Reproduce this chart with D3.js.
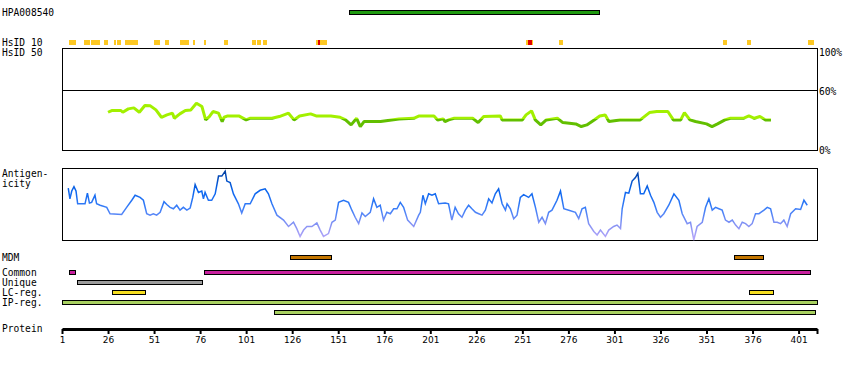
<!DOCTYPE html>
<html>
<head>
<meta charset="utf-8">
<script src="https://cdn.jsdelivr.net/npm/d3@7"></script>
<style>
    body { margin: 0; background: #fff; }
    svg { display: block; font-family: "DejaVu Sans Mono", monospace; font-size: 9.6px; }
</style>
</head>
<body>
<svg id="chart"></svg>
<script>
// ---- data ----
const proteinLength = 411;
const antibodyName = "HPA008540";
const antibodySpan = [157, 293];

// HsID 10 hits (residue ranges), strong hits drawn red on top
const hsid10Hits = [[5, 9], [13, 16], [17, 22], [24, 26], [29, 30], [31, 33], [35, 42], [51, 54],
    [57, 59], [65, 70], [72, 73], [78, 79], [89, 91], [104, 106], [107, 109], [110, 112],
    [139, 145], [253, 257], [271, 273], [360, 362], [373, 375], [406, 409]];
const hsid10Strong = [[140, 141], [254, 256]];

// HsID 50 identity (%)
const identityResidue = [26, 28, 33, 34, 37, 40, 43, 46, 49, 52,
    55, 58, 61, 62, 65, 68, 71, 74, 77, 79,
    81, 83, 86, 88, 89, 91, 97, 101, 103, 115,
    119, 124, 127, 130, 136, 139, 147, 152, 155, 158,
    161, 163, 165, 174, 180, 184, 192, 195, 203, 205,
    208, 209, 211, 214, 224, 227, 230, 239, 240, 251,
    253, 256, 258, 261, 264, 270, 273, 280, 283, 286,
    290, 293, 296, 298, 304, 315, 320, 324, 330, 333,
    337, 339, 342, 345, 351, 354, 357, 361, 364, 371,
    374, 377, 380, 383, 386];
const identityPct = [37, 38.7, 38.7, 37, 40.3, 41.3, 37, 43.6, 43.3, 39.3,
    32.1, 34.4, 36.1, 31.1, 35.4, 38.7, 39.3, 45.9, 42.6, 29.5,
    32.8, 37.7, 36.1, 27.9, 32.1, 33.4, 33.4, 29.5, 31.1, 31.1,
    32.8, 36.1, 29.5, 33.4, 35.4, 33.4, 33.4, 32.1, 29.5, 24.6,
    31.1, 23.0, 27.9, 27.9, 29.5, 30.5, 31.1, 33.4, 33.4, 29.5,
    30.5, 27.9, 29.5, 31.1, 31.1, 26.9, 32.8, 33.4, 29.5, 29.5,
    34.4, 38.4, 29.5, 24.6, 29.5, 31.1, 26.9, 25.6, 23.0, 24.6,
    29.5, 33.4, 34.4, 27.9, 29.5, 29.5, 36.7, 37.7, 37.7, 29.5,
    29.5, 36.7, 29.5, 27.9, 25.6, 23.0, 25.6, 29.5, 31.1, 31.1,
    33.4, 31.1, 32.8, 29.5, 29.5];

// antigenicity score (0 = box bottom, 100 = box top)
const antigenResidue = [4.4, 5.3, 6.3, 7.5, 8.6, 9.5, 13.5, 14.8, 15.9, 17.1,
    18.9, 19.8, 21.7, 25.3, 27.1, 33.4, 36.1, 38.9, 40.7, 43.4,
    45.2, 47.0, 48.8, 50.6, 52.4, 54.3, 56.4, 57.9, 59.7, 61.5,
    63.3, 65.1, 66.9, 68.8, 70.6, 72.0, 73.3, 75.1, 76.9, 77.8,
    78.7, 80.5, 82.3, 84.2, 86.0, 87.8, 89.6, 90.5, 92.3, 94.1,
    96.8, 98.6, 100.5, 103.2, 105.9, 108.6, 111.3, 113.1, 115.0, 117.7,
    121.3, 124.0, 126.7, 128.5, 130.3, 132.2, 134.0, 136.7, 139.4, 141.2,
    143.0, 145.7, 147.6, 149.4, 151.2, 153.9, 156.6, 158.4, 160.2, 162.1,
    163.9, 165.7, 168.4, 170.2, 172.0, 173.8, 175.6, 177.4, 179.3, 181.1,
    182.9, 184.7, 186.5, 188.7, 192.0, 194.7, 195.6, 197.0, 198.3, 200.1,
    201.9, 203.7, 205.5, 209.1, 210.9, 212.7, 214.5, 216.3, 218.2, 220.0,
    221.8, 223.6, 225.5, 227.3, 229.1, 230.9, 232.7, 234.5, 236.3, 238.1,
    240.0, 241.8, 242.7, 244.5, 246.3, 248.1, 249.9, 251.7, 254.4, 256.2,
    258.1, 259.9, 261.7, 263.5, 265.3, 267.1, 269.8, 271.7, 273.5, 276.2,
    279.8, 281.6, 283.4, 285.2, 287.0, 289.8, 291.6, 293.4, 296.1, 297.9,
    300.6, 302.4, 304.3, 305.2, 307.0, 308.8, 310.6, 312.4, 313.7, 315.1,
    316.9, 318.8, 320.6, 322.4, 324.2, 326.0, 327.8, 330.5, 333.3, 336.0,
    337.8, 340.5, 342.3, 344.1, 345.9, 348.7, 350.5, 352.3, 354.1, 355.9,
    357.7, 359.5, 361.3, 363.2, 365.0, 366.8, 368.6, 370.4, 372.2, 374.0,
    375.8, 377.6, 379.5, 382.2, 384.0, 385.8, 387.6, 389.4, 391.2, 393.0,
    394.8, 396.7, 399.4, 402.1, 403.9, 405.7];
const antigenScore = [73, 58, 69, 75, 69, 51, 51, 66, 52, 53,
    63, 51, 49, 46, 37, 36, 46, 56, 63, 60,
    56, 37, 35, 37, 35, 39, 54, 50, 46, 44,
    49, 42, 46, 42, 45, 60, 78, 67, 69, 58,
    67, 56, 56, 65, 90, 90, 97, 83, 81, 65,
    51, 38, 51, 51, 65, 70, 72, 65, 51, 35,
    28, 19, 25, 16, 5, 14, 19, 19, 24, 14,
    5, 9, 25, 28, 53, 56, 53, 42, 32, 23,
    38, 33, 39, 58, 46, 49, 28, 39, 37, 44,
    44, 53, 46, 28, 19, 35, 39, 63, 51, 65,
    63, 65, 51, 52, 51, 28, 46, 37, 32, 42,
    49, 44, 39, 37, 35, 42, 58, 52, 65, 72,
    51, 42, 51, 44, 30, 35, 60, 64, 60, 65,
    46, 25, 32, 23, 39, 42, 56, 69, 44, 42,
    39, 30, 44, 46, 23, 12, 7, 14, 5, 14,
    19, 21, 16, 44, 67, 66, 83, 88, 94, 65,
    65, 76, 63, 53, 39, 32, 37, 49, 65, 56,
    37, 23, 25, 0, 19, 25, 46, 58, 42, 46,
    44, 42, 28, 25, 28, 21, 16, 25, 23, 19,
    23, 37, 37, 42, 46, 44, 25, 25, 23, 28,
    19, 37, 44, 43, 56, 49];

// feature tracks (residue ranges)
const mdmRegions = [[125, 147], [366, 382]];
const commonRegions = [[5, 8], [78, 407]];
const uniqueRegions = [[9, 77]];
const lcRegions = [[28, 46], [374, 387]];
const ipRegions = [[1, 411]];
const ipRegions2 = [[116, 410]];

const tickResidues = [1, 26, 51, 76, 101, 126, 151, 176, 201, 226, 251, 276, 301, 326, 351, 376, 401];

class ProteinView {
    left = 62;
    right = 817;

    constructor(svg, width = 850, height = 370) {
        this.svg = svg;
        this.width = width;
        this.height = height;
    }

    initialize() {
        this.svg = d3.select(this.svg)
            .attr("width", this.width)
            .attr("height", this.height);
        this.defs = this.svg.append("defs");
        this.xScale = d3.scaleLinear().domain([1, proteinLength]).range([this.left, this.right]);
    }

    label(text, x, y) {
        this.svg.append("text").attr("x", x).attr("y", y).attr("fill", "#000").text(text);
    }

    bars(ranges, y, h, fill) {
        this.svg.append("g")
            .selectAll("rect")
            .data(ranges)
            .join("rect")
            .attr("x", d => Math.round(this.xScale(d[0])) + 0.5)
            .attr("y", y + 0.5)
            .attr("width", d => Math.max(1, Math.round(this.xScale(d[1]) - this.xScale(d[0]))))
            .attr("height", h)
            .attr("fill", fill)
            .attr("stroke", "#000")
            .attr("stroke-width", 1);
    }

    marks(ranges, fill) {
        const x = this.xScale;
        this.svg.append("g")
            .selectAll("rect")
            .data(ranges)
            .join("rect")
            .attr("x", d => Math.round(x(d[0])))
            .attr("y", 40)
            .attr("width", d => Math.max(2, Math.round(x(d[1]) - x(d[0]))))
            .attr("height", 5)
            .attr("fill", fill);
    }

    render() {
        const x = this.xScale;

        // antibody
        this.label(antibodyName, 2, 16);
        this.bars([antibodySpan], 10, 4, "#1f9a10");

        // HsID 10
        this.label("HsID 10", 2, 46);
        this.marks(hsid10Hits, "#fdc823");
        this.marks(hsid10Strong, "#e00000");

        // HsID 50 identity
        this.label("HsID 50", 2, 56);
        const yId = d3.scaleLinear().domain([0, 100]).range([150, 48]);
        this.svg.append("rect")
            .attr("x", this.left + 0.5).attr("y", 48.5)
            .attr("width", this.right - this.left).attr("height", 102)
            .attr("fill", "none").attr("stroke", "#000");
        this.svg.append("line")
            .attr("x1", this.left).attr("x2", this.right + 1)
            .attr("y1", 90.5).attr("y2", 90.5)
            .attr("stroke", "#000");
        this.label("100%", 819, 56);
        this.label("60%", 819, 95);
        this.label("0%", 819, 154);

        const idGrad = this.defs.append("linearGradient")
            .attr("id", "idGrad")
            .attr("gradientUnits", "userSpaceOnUse")
            .attr("x1", 0).attr("x2", 0)
            .attr("y1", yId(100)).attr("y2", yId(0));
        const cut = 1 - 30 / 100;
        idGrad.append("stop").attr("offset", cut).attr("stop-color", "#a2f000");
        idGrad.append("stop").attr("offset", cut).attr("stop-color", "#62bf00");

        const idLine = d3.line()
            .x((d, i) => x(identityResidue[i]))
            .y(d => yId(d));
        this.svg.append("path")
            .attr("d", idLine(identityPct))
            .attr("fill", "none")
            .attr("stroke", "url(#idGrad)")
            .attr("stroke-width", 3)
            .attr("stroke-linejoin", "bevel");

        // antigenicity
        this.label("Antigen-", 2, 177);
        this.label("icity", 2, 187);
        const yAg = d3.scaleLinear().domain([0, 100]).range([240, 169]);
        this.svg.append("rect")
            .attr("x", this.left + 0.5).attr("y", 168.5)
            .attr("width", this.right - this.left).attr("height", 72)
            .attr("fill", "none").attr("stroke", "#000");

        const agGrad = this.defs.append("linearGradient")
            .attr("id", "agGrad")
            .attr("gradientUnits", "userSpaceOnUse")
            .attr("x1", 0).attr("x2", 0)
            .attr("y1", yAg(100)).attr("y2", yAg(0));
        agGrad.append("stop").attr("offset", 0).attr("stop-color", "#003a98");
        agGrad.append("stop").attr("offset", 0.3).attr("stop-color", "#0864ee");
        agGrad.append("stop").attr("offset", 0.55).attr("stop-color", "#3a7ef8");
        agGrad.append("stop").attr("offset", 0.8).attr("stop-color", "#8a94f4");
        agGrad.append("stop").attr("offset", 1).attr("stop-color", "#b9a8fa");

        const agLine = d3.line()
            .x((d, i) => x(antigenResidue[i]))
            .y(d => yAg(d));
        this.svg.append("path")
            .attr("d", agLine(antigenScore))
            .attr("fill", "none")
            .attr("stroke", "url(#agGrad)")
            .attr("stroke-width", 1.5);

        // feature tracks
        this.label("MDM", 2, 261);
        this.bars(mdmRegions, 255, 4, "#c47600");
        this.label("Common", 2, 276);
        this.bars(commonRegions, 270, 4, "#c8209e");
        this.label("Unique", 2, 286);
        this.bars(uniqueRegions, 280, 4, "#9c9c9c");
        this.label("LC-reg.", 2, 296);
        this.bars(lcRegions, 290, 4, "#f6de20");
        this.label("IP-reg.", 2, 306);
        this.bars(ipRegions, 300, 4, "#a8d060");
        this.bars(ipRegions2, 310, 4, "#a8d060");

        // protein axis
        this.label("Protein", 2, 332);
        const axis = this.svg.append("g")
            .attr("transform", "translate(0, 329)")
            .call(d3.axisBottom(x)
                .tickValues([...tickResidues, proteinLength])
                .tickFormat(d => d === proteinLength ? "" : d)
                .tickSize(5)
                .tickSizeOuter(0));
        axis.select(".domain").attr("stroke-width", 3);
        axis.selectAll(".tick line").attr("stroke-width", 2);
        axis.selectAll(".tick text")
            .attr("y", 8)
            .style("font-family", "'DejaVu Sans', sans-serif")
            .style("font-size", "9px");
    }
}

const view = new ProteinView(document.getElementById("chart"));
view.initialize();
view.render();
</script>
</body>
</html>
